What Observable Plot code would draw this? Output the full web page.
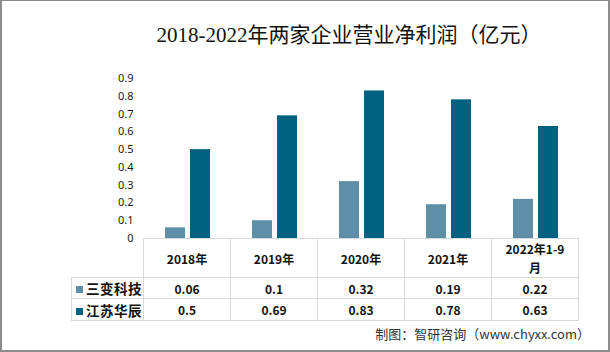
<!DOCTYPE html>
<html><head><meta charset="utf-8">
<script src="https://cdn.jsdelivr.net/npm/d3@7"></script>
<script src="https://cdn.jsdelivr.net/npm/@observablehq/plot@0.6"></script>
<style>
body{margin:0;background:#fff;}
#wrap{position:relative;width:610px;height:352px;background:#fff;overflow:hidden;font-family:"Noto Sans CJK SC","Noto Sans",sans-serif;}
#frame{position:absolute;left:0;top:0;width:610px;height:352px;box-sizing:border-box;border:2px solid #8c8c8c;border-top-width:1px;pointer-events:none;}
#title{position:absolute;left:0;top:22px;width:698px;text-align:center;font-family:"Liberation Serif","Noto Sans CJK SC",serif;font-size:21px;line-height:26px;color:#111;white-space:nowrap;}
#chart{position:absolute;left:0;top:0;}
#table{position:absolute;left:71px;top:238px;border-collapse:collapse;table-layout:fixed;}
#table td{border:1px solid #d9d9d9;padding:0;text-align:center;font-weight:bold;font-size:12px;color:#111;}
#table td.corner{border-top:none;border-left:none;}
#table td.lab{text-align:left;font-size:13.5px;letter-spacing:0.5px;padding-left:4px;white-space:nowrap;}
#table td.lab span.sw{display:inline-block;width:7px;height:7px;margin-right:3px;vertical-align:1px;}
#table tr.head td{height:37px;}
#table tr.r1 td{height:20px;}
#table tr.r2 td{height:21px;}
#table .hd{display:inline-block;width:62px;line-height:19px;}
#caption{position:absolute;right:20px;top:325px;font-size:13px;line-height:18px;color:#333;white-space:nowrap;}
</style></head><body>
<div id="wrap">
  <div id="title"></div>
  <div id="chart"></div>
  <table id="table"></table>
  <div id="caption"></div>
  <div id="frame"></div>
</div>
<script>
const titleText = "2018-2022年两家企业营业净利润（亿元）";
const captionText = "制图：智研咨询（www.chyxx.com）";
const categories = ["2018年", "2019年", "2020年", "2021年", "2022年1-9月"];
const seriesNames = ["三变科技", "江苏华辰"];
const sanbian = [0.06, 0.1, 0.32, 0.19, 0.22];
const huachen = [0.5, 0.69, 0.83, 0.78, 0.63];
const seriesValues = [sanbian, huachen];
const yTicks = [0, 0.1, 0.2, 0.3, 0.4, 0.5, 0.6, 0.7, 0.8, 0.9];
const colors = ["#5e8fa7", "#006180"];

document.getElementById("title").textContent = titleText;
document.getElementById("caption").textContent = captionText;

const data0 = categories.map((c, i) => ({cat: c, v: sanbian[i]}));
const data1 = categories.map((c, i) => ({cat: c, v: huachen[i]}));

const chart = Plot.plot({
  width: 610, height: 252,
  marginTop: 78, marginBottom: 14, marginLeft: 143, marginRight: 32,
  x: {domain: categories, padding: 0, axis: null},
  y: {domain: [0, 0.9], axis: null},
  style: {fontFamily: "'Noto Sans', sans-serif", fontSize: "11px", color: "#1a1a1a", background: "transparent"},
  marks: [
    Plot.axisY(yTicks, {tickSize: 0, tickPadding: 10, tickFormat: d => String(+d.toFixed(1)), label: null, fill: "#1a1a1a"}),
    Plot.barY(data0, {x: "cat", y: "v", fill: colors[0], insetLeft: 22, insetRight: 45}),
    Plot.barY(data1, {x: "cat", y: "v", fill: colors[1], insetLeft: 47, insetRight: 20})
  ]
});
document.getElementById("chart").appendChild(chart);

// data table
const table = document.getElementById("table");
const colgroup = document.createElement("colgroup");
const c0 = document.createElement("col"); c0.style.width = "72px"; colgroup.appendChild(c0);
categories.forEach(() => { const c = document.createElement("col"); c.style.width = "87px"; colgroup.appendChild(c); });
table.appendChild(colgroup);
const head = document.createElement("tr"); head.className = "head";
const corner = document.createElement("td"); corner.className = "corner"; head.appendChild(corner);
categories.forEach(c => { const td = document.createElement("td"); const s = document.createElement("span"); s.className = "hd"; s.textContent = c; td.appendChild(s); head.appendChild(td); });
table.appendChild(head);
seriesNames.forEach((name, si) => {
  const tr = document.createElement("tr"); tr.className = "r" + (si + 1);
  const lab = document.createElement("td"); lab.className = "lab";
  const sw = document.createElement("span"); sw.className = "sw"; sw.style.background = colors[si];
  lab.appendChild(sw); lab.appendChild(document.createTextNode(name));
  tr.appendChild(lab);
  seriesValues[si].forEach(v => { const td = document.createElement("td"); td.textContent = String(v); tr.appendChild(td); });
  table.appendChild(tr);
});
</script>
</body></html>
